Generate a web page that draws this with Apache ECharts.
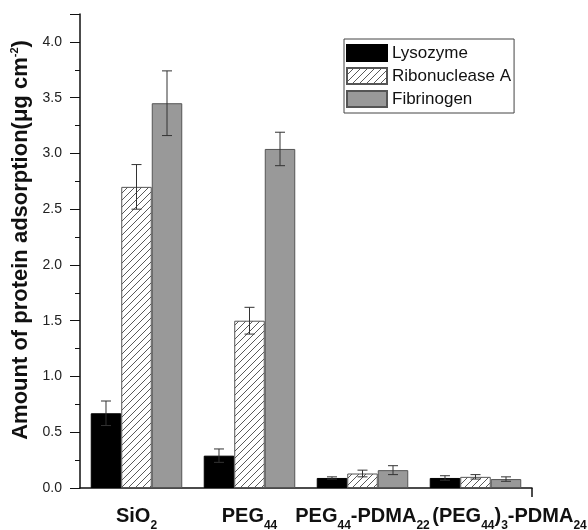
<!DOCTYPE html>
<html>
<head>
<meta charset="utf-8">
<script src="https://cdn.jsdelivr.net/npm/echarts@6/dist/echarts.min.js"></script>
<style>
html, body { margin: 0; padding: 0; background: #fff; }
#chart { width: 588px; height: 530px; }
</style>
</head>
<body>
<div id="chart"></div>
<script>
// surfaces on the x axis, rich-text labels carry the subscripts
const categories = ['SiO2', 'PEG44', 'PEG44-PDMA22', '(PEG44)3-PDMA24']
const categoryLabels = [
  '{b|SiO}{s|2}',
  '{b|PEG}{s|44}',
  '{b|PEG}{s|44}{b|-PDMA}{s|22}',
  '{b|(PEG}{s|44}{b|)}{s|3}{b|-PDMA}{s|24}'
]
const seriesNames = ['Lysozyme', 'Ribonuclease A', 'Fibrinogen']

// adsorbed amount (ug cm-2) and error
const lysozyme = [0.67, 0.29, 0.09, 0.09]
const lysozymeErr = [0.11, 0.06, 0.01, 0.02]
const ribonuclease = [2.70, 1.50, 0.13, 0.10]
const ribonucleaseErr = [0.20, 0.12, 0.03, 0.02]
const fibrinogen = [3.45, 3.04, 0.16, 0.08]
const fibrinogenErr = [0.29, 0.15, 0.04, 0.02]

const yTicks = ['0.0', '0.5', '1.0', '1.5', '2.0', '2.5', '3.0', '3.5', '4.0']

// diagonal hatch for ribonuclease
function makeHatch() {
  const n = 7
  const c = document.createElement('canvas')
  c.width = n
  c.height = n
  const ctx = c.getContext('2d')
  ctx.fillStyle = '#fff'
  ctx.fillRect(0, 0, n, n)
  ctx.strokeStyle = '#5a5a5a'
  ctx.lineWidth = 1
  ctx.beginPath()
  ctx.moveTo(0, n); ctx.lineTo(n, 0)
  ctx.moveTo(-n / 2, n / 2); ctx.lineTo(n / 2, -n / 2)
  ctx.moveTo(n / 2, n * 1.5); ctx.lineTo(n * 1.5, n / 2)
  ctx.stroke()
  return c
}

const GROUP_FILL = 0.81

function errorBars(idx, values, errors) {
  return {
    type: 'custom',
    name: 'err' + idx,
    z: 5,
    encode: { x: 0, y: 1 },
    data: values.map((v, i) => [i, v, errors[i]]),
    renderItem(params, api) {
      const cat = api.value(0)
      const v = api.value(1)
      const e = api.value(2)
      const barW = api.size([1, 0])[0] * GROUP_FILL / 3
      const top = api.coord([cat, v + e])
      const bot = api.coord([cat, v - e])
      const x = top[0] + (idx - 1) * barW
      const style = { stroke: '#333', lineWidth: 1 }
      return {
        type: 'group',
        children: [
          { type: 'line', shape: { x1: x, y1: top[1], x2: x, y2: bot[1] }, style },
          { type: 'line', shape: { x1: x - 5, y1: top[1], x2: x + 5, y2: top[1] }, style },
          { type: 'line', shape: { x1: x - 5, y1: bot[1], x2: x + 5, y2: bot[1] }, style }
        ]
      }
    }
  }
}

const chart = echarts.init(document.getElementById('chart'))
const font = 'Liberation Sans, Arial, sans-serif'

// the last label is pushed right in the original so it does not collide
const xData = categories.map((c, i) => (i === 3 ? { value: c, textStyle: { padding: [0, 0, 0, 68] } } : c))

chart.setOption({
  animation: false,
  textStyle: { fontFamily: font },
  legend: {
    data: seriesNames.map(name => ({ name, icon: 'rect' })),
    orient: 'vertical',
    left: 344,
    top: 39,
    itemWidth: 40,
    itemHeight: 16,
    itemGap: 5,
    padding: [5, 3, 5, 2],
    borderColor: '#444',
    borderWidth: 1,
    textStyle: { fontSize: 17, color: '#111', fontFamily: font }
  },
  grid: { left: 80, right: 56, top: 14, bottom: 42, outerBoundsMode: 'none' },
  xAxis: [
    {
      type: 'category',
      data: xData,
      axisLine: { lineStyle: { color: '#111', width: 1.5 } },
      axisTick: { show: false },
      axisLabel: {
        interval: 0,
        margin: 18,
        formatter: (v, i) => categoryLabels[i],
        rich: {
          b: { fontSize: 20, fontWeight: 'bold', color: '#111', fontFamily: font, lineHeight: 26, verticalAlign: 'top' },
          s: { fontSize: 12, fontWeight: 'bold', color: '#111', fontFamily: font, lineHeight: 26, verticalAlign: 'bottom' }
        }
      }
    },
    {
      // only used for the closing tick at the right end of the x axis
      type: 'value',
      position: 'bottom',
      min: 0,
      max: 1,
      interval: 1,
      axisLine: { show: false },
      axisTick: { show: true, length: 9, customValues: [1], lineStyle: { color: '#111', width: 1.5 } },
      axisLabel: { show: false },
      splitLine: { show: false }
    }
  ],
  yAxis: {
    type: 'value',
    min: 0,
    max: 4.25,
    interval: 0.5,
    name: 'Amount of protein adsorption(μg cm{sup|-2})',
    nameLocation: 'middle',
    nameRotate: 90,
    nameGap: 45,
    nameTextStyle: {
      fontSize: 22,
      fontWeight: 'bold',
      color: '#111',
      fontFamily: font,
      padding: [0, 0, 0, 22],
      rich: {
        sup: { fontSize: 11, fontWeight: 'bold', color: '#111', fontFamily: font, verticalAlign: 'top', padding: [0, 0, 10, 0] }
      }
    },
    axisLine: { show: true, lineStyle: { color: '#111', width: 1.5 } },
    axisTick: { show: true, inside: false, length: 10, lineStyle: { color: '#111' } },
    minorTick: { show: true, splitNumber: 2, length: 5, lineStyle: { color: '#111' } },
    splitLine: { show: false },
    axisLabel: {
      fontSize: 14,
      color: '#222',
      margin: 18,
      formatter: v => yTicks[Math.round(v / 0.5)] || ''
    }
  },
  series: [
    {
      name: seriesNames[0],
      type: 'bar',
      barGap: '0%',
      barCategoryGap: '19%',
      data: lysozyme,
      itemStyle: { color: '#000', borderColor: '#000', borderWidth: 1 }
    },
    {
      name: seriesNames[1],
      type: 'bar',
      barGap: '0%',
      barCategoryGap: '19%',
      data: ribonuclease,
      itemStyle: { color: { image: makeHatch(), repeat: 'repeat' }, borderColor: '#555', borderWidth: 1 }
    },
    {
      name: seriesNames[2],
      type: 'bar',
      barGap: '0%',
      barCategoryGap: '19%',
      data: fibrinogen,
      itemStyle: { color: '#999', borderColor: '#555', borderWidth: 1 }
    },
    errorBars(0, lysozyme, lysozymeErr),
    errorBars(1, ribonuclease, ribonucleaseErr),
    errorBars(2, fibrinogen, fibrinogenErr)
  ]
})
</script>
</body>
</html>
